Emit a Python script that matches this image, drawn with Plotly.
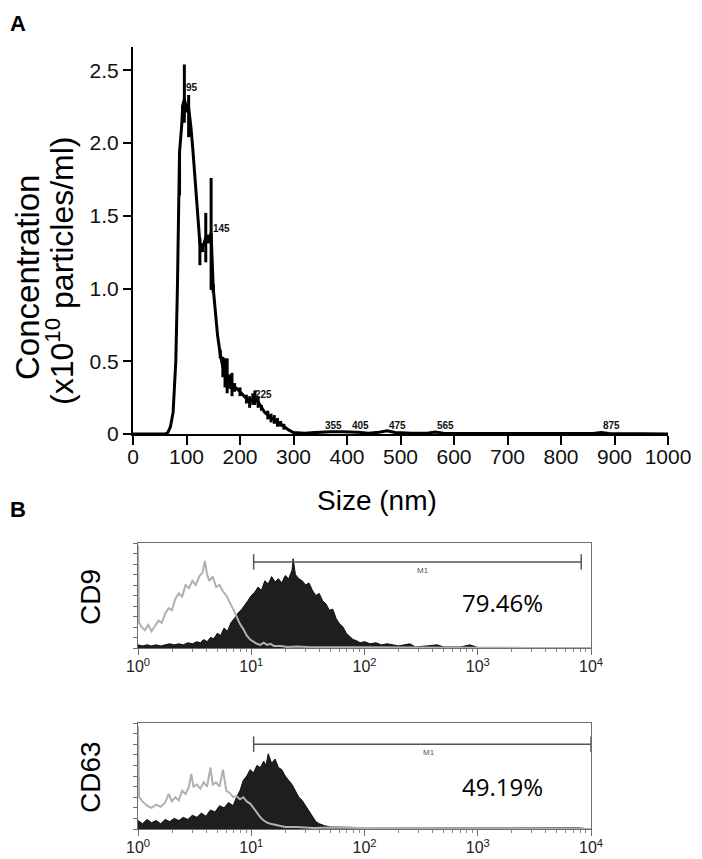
import plotly.graph_objects as go

# ---------------- DATA ----------------
# Panel A: NTA size distribution
size_nm = [0, 60, 65, 70, 75, 80, 83, 87, 91, 93, 96, 100, 104, 108, 112, 116, 120, 125, 130, 136,
           141, 146, 150, 154, 158, 163, 168, 172, 176, 181, 185, 190, 195, 200, 206, 212, 218, 224, 228, 234,
           240, 246, 252, 258, 264, 270, 276, 282, 290, 300, 320, 340, 355, 370, 390, 405, 420, 440, 460, 475,
           490, 520, 550, 565, 580, 620, 700, 800, 860, 875, 890, 950, 1000]
concentration = [0, 0, 0.01, 0.05, 0.15, 0.5, 1.0, 1.94, 2.12, 2.26, 2.30, 2.24, 2.24, 2.12, 1.95, 1.75, 1.55, 1.31, 1.28, 1.35,
                 1.34, 1.38, 1.0, 0.85, 0.68, 0.55, 0.46, 0.42, 0.40, 0.36, 0.34, 0.32, 0.31, 0.29, 0.27, 0.24, 0.22, 0.24, 0.25, 0.22,
                 0.18, 0.15, 0.13, 0.11, 0.10, 0.08, 0.07, 0.05, 0.03, 0.01, 0.006, 0.01, 0.015, 0.015, 0.015, 0.016, 0.012, 0.006, 0.012, 0.022,
                 0.01, 0.006, 0.006, 0.014, 0.006, 0.004, 0.003, 0.003, 0.004, 0.01, 0.004, 0.002, 0.0]
err_sizes = [87, 93, 96, 100, 104, 125, 130, 136, 141, 146, 150, 163, 168, 172, 176, 181, 185, 190, 200, 212,
             218, 224, 228, 234, 240, 252, 258, 264, 270, 276, 282]
err_plus = [0, 0, 0.24, 0.03, 0.09, 0.04, 0.03, 0.17, 0.03, 0.38, 0.03, 0.03, 0.07, 0.10, 0.12, 0.05, 0.08, 0.03, 0.03, 0.03,
            0.04, 0.04, 0.05, 0.04, 0.02, 0.03, 0.03, 0.03, 0.03, 0.02, 0.02]
err_minus = [0.3, 0.12, 0.16, 0.03, 0.2, 0.15, 0.03, 0.17, 0.03, 0.39, 0.03, 0.03, 0.07, 0.10, 0.12, 0.05, 0.08, 0.03, 0.03, 0.03,
             0.04, 0.04, 0.05, 0.04, 0.02, 0.03, 0.03, 0.03, 0.03, 0.02, 0.02]
peak_labels = ["95", "145", "225", "355", "405", "475", "565", "875"]
peak_label_size = [95, 145, 225, 355, 405, 475, 565, 875]
peak_label_conc = [2.38, 1.41, 0.27, 0.06, 0.06, 0.06, 0.06, 0.06]
a_xticks = [0, 100, 200, 300, 400, 500, 600, 700, 800, 900, 1000]
a_yticks = [0, 0.5, 1.0, 1.5, 2.0, 2.5]
a_yticktext = ["0", "0.5", "1.0", "1.5", "2.0", "2.5"]

# Panel B: flow cytometry histograms (log10 fluorescence, relative counts)
cd9_iso_log = [0.0, 0.01, 0.03, 0.06, 0.09, 0.12, 0.15, 0.18, 0.21, 0.24, 0.27, 0.30, 0.33, 0.36, 0.39, 0.42, 0.45, 0.48, 0.51, 0.54,
               0.57, 0.59, 0.61, 0.63, 0.66, 0.69, 0.72, 0.75, 0.78, 0.81, 0.84, 0.87, 0.90, 0.93, 0.96, 0.99, 1.02, 1.05, 1.08, 1.11,
               1.14, 1.17, 1.20, 1.26, 1.32, 1.40, 1.50, 1.65, 1.80, 2.0, 2.3, 2.6, 3.0, 3.5, 4.0]
cd9_iso_cnt = [0.98, 0.24, 0.20, 0.17, 0.22, 0.16, 0.21, 0.26, 0.24, 0.33, 0.38, 0.36, 0.47, 0.52, 0.49, 0.60, 0.57, 0.64, 0.60, 0.68,
               0.72, 0.83, 0.70, 0.64, 0.68, 0.58, 0.60, 0.54, 0.50, 0.44, 0.37, 0.30, 0.23, 0.18, 0.12, 0.08, 0.06, 0.04, 0.03, 0.05,
               0.03, 0.04, 0.02, 0.02, 0.01, 0.015, 0.01, 0.01, 0.005, 0.008, 0.005, 0.005, 0.003, 0.0, 0.0]
cd9_log = [0.0, 0.04, 0.08, 0.12, 0.16, 0.20, 0.24, 0.28, 0.32, 0.36, 0.40, 0.44, 0.48, 0.52, 0.55, 0.58, 0.61, 0.64, 0.67, 0.70,
           0.73, 0.76, 0.79, 0.82, 0.85, 0.88, 0.91, 0.94, 0.97, 1.00, 1.03, 1.06, 1.09, 1.12, 1.15, 1.18, 1.21, 1.24, 1.27, 1.30,
           1.33, 1.36, 1.37, 1.39, 1.42, 1.45, 1.48, 1.51, 1.54, 1.57, 1.60, 1.63, 1.66, 1.69, 1.72, 1.75, 1.78, 1.81, 1.84, 1.87,
           1.90, 1.93, 1.96, 2.00, 2.05, 2.10, 2.15, 2.20, 2.25, 2.30, 2.40, 2.45, 2.55, 2.64, 2.70, 2.85, 2.93, 3.0, 3.3, 3.6, 4.0]
cd9_cnt = [0.03, 0.02, 0.03, 0.02, 0.03, 0.02, 0.03, 0.04, 0.03, 0.04, 0.03, 0.05, 0.04, 0.06, 0.05, 0.08, 0.06, 0.10, 0.09, 0.14,
           0.12, 0.19, 0.16, 0.24, 0.28, 0.33, 0.36, 0.40, 0.45, 0.50, 0.53, 0.58, 0.55, 0.64, 0.61, 0.68, 0.63, 0.66, 0.62, 0.69,
           0.66, 0.74, 0.85, 0.70, 0.66, 0.64, 0.60, 0.62, 0.55, 0.50, 0.52, 0.45, 0.42, 0.36, 0.37, 0.28, 0.23, 0.20, 0.14, 0.11,
           0.08, 0.07, 0.05, 0.06, 0.04, 0.05, 0.03, 0.04, 0.03, 0.02, 0.04, 0.01, 0.02, 0.03, 0.01, 0.01, 0.03, 0.005, 0.003, 0.0, 0.0]
cd63_iso_log = [0.0, 0.01, 0.04, 0.08, 0.12, 0.16, 0.20, 0.24, 0.27, 0.30, 0.33, 0.36, 0.39, 0.42, 0.45, 0.47, 0.49, 0.52, 0.55, 0.58,
                0.61, 0.64, 0.66, 0.69, 0.72, 0.75, 0.78, 0.81, 0.84, 0.87, 0.90, 0.93, 0.96, 0.99, 1.02, 1.05, 1.08, 1.11, 1.14, 1.17,
                1.20, 1.25, 1.30, 1.40, 1.55, 1.70, 2.0, 2.5, 3.0, 4.0]
cd63_iso_cnt = [0.97, 0.30, 0.26, 0.22, 0.20, 0.23, 0.21, 0.25, 0.33, 0.26, 0.30, 0.27, 0.36, 0.33, 0.40, 0.52, 0.40, 0.42, 0.38, 0.44,
                0.40, 0.58, 0.42, 0.44, 0.40, 0.56, 0.36, 0.34, 0.30, 0.31, 0.28, 0.30, 0.26, 0.24, 0.20, 0.15, 0.11, 0.08, 0.06, 0.05,
                0.04, 0.03, 0.02, 0.02, 0.01, 0.015, 0.01, 0.005, 0.005, 0.0]
cd63_log = [0.0, 0.04, 0.08, 0.12, 0.16, 0.20, 0.24, 0.28, 0.32, 0.36, 0.40, 0.44, 0.48, 0.52, 0.56, 0.60, 0.64, 0.68, 0.72, 0.76,
            0.80, 0.84, 0.87, 0.90, 0.93, 0.96, 0.99, 1.02, 1.05, 1.08, 1.11, 1.13, 1.15, 1.18, 1.21, 1.24, 1.27, 1.30, 1.33, 1.36,
            1.39, 1.42, 1.45, 1.48, 1.51, 1.54, 1.57, 1.60, 1.65, 1.70, 1.80, 1.90, 2.0, 2.2, 2.4, 2.6, 2.8, 3.0, 3.3, 3.6, 3.9, 4.0]
cd63_cnt = [0.08, 0.05, 0.09, 0.06, 0.08, 0.05, 0.09, 0.07, 0.10, 0.08, 0.11, 0.09, 0.13, 0.11, 0.15, 0.12, 0.18, 0.16, 0.22, 0.20,
            0.25, 0.22, 0.30, 0.36, 0.46, 0.50, 0.56, 0.53, 0.60, 0.58, 0.64, 0.60, 0.71, 0.62, 0.66, 0.58, 0.56, 0.50, 0.46, 0.42,
            0.36, 0.30, 0.27, 0.22, 0.18, 0.12, 0.07, 0.05, 0.03, 0.02, 0.02, 0.015, 0.01, 0.01, 0.012, 0.008, 0.01, 0.006, 0.005, 0.005, 0.01, 0.0]
m1_cd9 = [10.5, 8200]
m1_cd63 = [10.5, 10000]
m1_level = [0.82, 0.80]
pct_text = ["79.46%", "49.19%"]
flow_major = [1, 10, 100, 1000, 10000]
flow_major_text = ["10<sup>0</sup>", "10<sup>1</sup>", "10<sup>2</sup>", "10<sup>3</sup>", "10<sup>4</sup>"]
flow_minor = [2, 3, 4, 5, 6, 7, 8, 9, 20, 30, 40, 50, 60, 70, 80, 90, 200, 300, 400, 500, 600, 700, 800, 900,
              2000, 3000, 4000, 5000, 6000, 7000, 8000, 9000]
flow_yticks = [0, 0.1, 0.2, 0.3, 0.4, 0.5, 0.6, 0.7, 0.8, 0.9, 1.0]

# ---------------- FIGURE ----------------
W, H = 702, 859
OFF = 8  # the page's default body margin shifts the figure by this many pixels
FONT = "Arial, Liberation Sans, sans-serif"


def fx(p):
    return (p - OFF) / W


def fy(p):
    return 1 - (p - OFF) / H


fig = go.Figure()

# Panel A
fig.add_trace(go.Scatter(x=size_nm, y=concentration, mode="lines",
                         line=dict(color="black", width=3), xaxis="x", yaxis="y", showlegend=False))
err_y = [concentration[size_nm.index(s)] for s in err_sizes]
fig.add_trace(go.Scatter(x=err_sizes, y=err_y, mode="markers", marker=dict(size=1, color="black"),
                         error_y=dict(type="data", symmetric=False, array=err_plus, arrayminus=err_minus,
                                      color="black", thickness=3, width=0),
                         xaxis="x", yaxis="y", showlegend=False))

# Panel B - CD9
fig.add_trace(go.Scatter(x=[10 ** v for v in cd9_log], y=cd9_cnt, mode="lines", fill="tozeroy",
                         fillcolor="#1e1e1e", line=dict(color="#111111", width=1),
                         xaxis="x2", yaxis="y2", showlegend=False))
fig.add_trace(go.Scatter(x=[10 ** v for v in cd9_iso_log], y=cd9_iso_cnt, mode="lines",
                         line=dict(color="#b0b0b0", width=2), xaxis="x2", yaxis="y2", showlegend=False))
fig.add_trace(go.Scatter(x=m1_cd9, y=[m1_level[0]] * 2, mode="lines+markers",
                         line=dict(color="#555555", width=1.5),
                         marker=dict(symbol="line-ns", size=11, line=dict(color="#555555", width=1.5)),
                         xaxis="x2", yaxis="y2", showlegend=False))

# Panel B - CD63
fig.add_trace(go.Scatter(x=[10 ** v for v in cd63_log], y=cd63_cnt, mode="lines", fill="tozeroy",
                         fillcolor="#1e1e1e", line=dict(color="#111111", width=1),
                         xaxis="x3", yaxis="y3", showlegend=False))
fig.add_trace(go.Scatter(x=[10 ** v for v in cd63_iso_log], y=cd63_iso_cnt, mode="lines",
                         line=dict(color="#b0b0b0", width=2), xaxis="x3", yaxis="y3", showlegend=False))
fig.add_trace(go.Scatter(x=m1_cd63, y=[m1_level[1]] * 2, mode="lines+markers",
                         line=dict(color="#555555", width=1.5),
                         marker=dict(symbol="line-ns", size=11, line=dict(color="#555555", width=1.5)),
                         xaxis="x3", yaxis="y3", showlegend=False, cliponaxis=False))

flow_x = dict(type="log", range=[0, 4], showgrid=False, zeroline=False, automargin=False,
              showline=True, mirror=True, linecolor="#6e6e6e", linewidth=1.3,
              tickmode="array", tickvals=flow_major, ticktext=flow_major_text,
              ticks="outside", ticklen=6, tickwidth=1, tickcolor="#6e6e6e", ticklabelstandoff=-2,
              tickfont=dict(family=FONT, size=16, color="#222222"),
              minor=dict(tickmode="array", tickvals=flow_minor, ticks="outside", ticklen=3,
                         tickwidth=1, tickcolor="#888888"))
flow_y = dict(range=[0, 1], showgrid=False, zeroline=False, showline=True, mirror=True, automargin=False,
              linecolor="#6e6e6e", linewidth=1.3, tickmode="array", tickvals=flow_yticks,
              ticks="outside", ticklen=4, tickwidth=1, tickcolor="#6e6e6e", showticklabels=False)

fig.update_layout(
    width=W, height=H, autosize=False,
    margin=dict(l=0, r=0, t=0, b=0, pad=0, autoexpand=False),
    paper_bgcolor="white", plot_bgcolor="white",
    font=dict(family=FONT, color="black"),
    xaxis=dict(domain=[fx(133), fx(668)], range=[0, 1000], anchor="y", automargin=False,
               tickmode="array", tickvals=a_xticks, ticks="outside", ticklen=9, tickwidth=2,
               tickcolor="black", showline=True, linewidth=2, linecolor="black", ticklabelstandoff=-6,
               showgrid=False, zeroline=False, tickfont=dict(family=FONT, size=21, color="#111111")),
    yaxis=dict(domain=[fy(434), fy(47)], range=[0, 2.66], anchor="x", automargin=False,
               tickmode="array", tickvals=a_yticks, ticktext=a_yticktext, ticks="outside", ticklen=8,
               tickwidth=2, tickcolor="black", showline=True, linewidth=2, linecolor="black",
               showgrid=False, zeroline=False, tickfont=dict(family=FONT, size=21, color="#111111")),
    xaxis2=dict(domain=[fx(138), fx(591)], anchor="y2", **flow_x),
    yaxis2=dict(domain=[fy(648), fy(543)], anchor="x2", **flow_y),
    xaxis3=dict(domain=[fx(138), fx(591)], anchor="y3", **flow_x),
    yaxis3=dict(domain=[fy(829), fy(723)], anchor="x3", **flow_y),
)

ann = []
# Panel letters
ann.append(dict(text="<b>A</b>", x=fx(8), y=fy(9), xref="paper", yref="paper", xanchor="left",
                yanchor="top", showarrow=False, font=dict(family=FONT, size=22, color="black")))
ann.append(dict(text="<b>B</b>", x=fx(8), y=fy(510), xref="paper", yref="paper", xanchor="left",
                yanchor="middle", showarrow=False, font=dict(family=FONT, size=22, color="black")))
# Panel A axis titles
ann.append(dict(text="Size (nm)", x=fx(377), y=fy(500), xref="paper", yref="paper", xanchor="center",
                yanchor="middle", showarrow=False, font=dict(family=FONT, size=28, color="black")))
ann.append(dict(text="Concentration", x=fx(28), y=fy(278), xref="paper", yref="paper", xanchor="center",
                yanchor="middle", textangle=-90, showarrow=False, font=dict(family=FONT, size=33, color="black")))
ann.append(dict(text="(x10<sup>10</sup> particles/ml)", x=fx(60), y=fy(271), xref="paper", yref="paper",
                xanchor="center", yanchor="middle", textangle=-90, showarrow=False,
                font=dict(family=FONT, size=32, color="black")))
# Peak labels
for t, sx, sy in zip(peak_labels, peak_label_size, peak_label_conc):
    ann.append(dict(text="<b>%s</b>" % t, x=sx, y=sy, xref="x", yref="y", xanchor="left", yanchor="middle",
                    showarrow=False, font=dict(family=FONT, size=10, color="#111111")))
# Panel B labels
ann.append(dict(text="CD9", x=fx(90), y=fy(597), xref="paper", yref="paper", xanchor="center",
                yanchor="middle", textangle=-90, showarrow=False, font=dict(family=FONT, size=28, color="black")))
ann.append(dict(text="CD63", x=fx(90), y=fy(777), xref="paper", yref="paper", xanchor="center",
                yanchor="middle", textangle=-90, showarrow=False, font=dict(family=FONT, size=28, color="black")))
ann.append(dict(text=pct_text[0], x=3.22, y=0.43, xref="x2", yref="y2", xanchor="center", yanchor="middle",
                showarrow=False, font=dict(family="Open Sans, Noto Sans, sans-serif", size=24, color="black")))
ann.append(dict(text=pct_text[1], x=3.22, y=0.40, xref="x3", yref="y3", xanchor="center", yanchor="middle",
                showarrow=False, font=dict(family="Open Sans, Noto Sans, sans-serif", size=24, color="black")))
ann.append(dict(text="M1", x=2.52, y=0.74, xref="x2", yref="y2", xanchor="center", yanchor="middle",
                showarrow=False, font=dict(family=FONT, size=8, color="#555555")))
ann.append(dict(text="M1", x=2.57, y=0.72, xref="x3", yref="y3", xanchor="center", yanchor="middle",
                showarrow=False, font=dict(family=FONT, size=8, color="#555555")))
fig.update_layout(annotations=ann)

fig.write_html("out.html")
